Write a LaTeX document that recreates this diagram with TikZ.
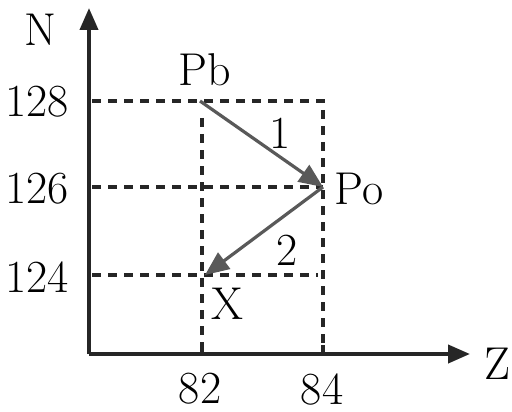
\documentclass[tikz,border=0pt]{standalone}
\usetikzlibrary{arrows.meta}
\begin{document}
\begin{tikzpicture}[x=0.5pt,y=-0.5pt,
  lbl/.style={inner sep=0pt,font=\fontsize{23}{26}\selectfont},
  axis/.style={line width=2pt,-{Triangle[length=11pt,width=9pt]},black!85},
  guide/.style={line width=1.6pt,dash pattern=on 4.5pt off 3.5pt,black!85},
  decay/.style={line width=1.6pt,black!65,-{Triangle[length=12pt,width=10pt]}}]
\useasboundingbox (0,0) rectangle (512,411);
\coordinate (O) at (89,354);
\coordinate (Ytop) at (89,8);
\coordinate (Xend) at (470,354);
\coordinate (Pb) at (200,101);
\coordinate (Po) at (323,187);
\coordinate (X) at (205,275);
\coordinate (L128) at (92,101);
\coordinate (L126) at (92,187);
\coordinate (L124) at (92,275);
\coordinate (R124) at (318,275);
\coordinate (R128) at (323,101);
\coordinate (A82) at (202,354);
\coordinate (T82) at (202,118);
\coordinate (A84) at (323,354);
% guides
\draw[guide] (L128) -- (R128) -- (A84);
\draw[guide] (L126) -- (Po);
\draw[guide] (L124) -- (R124);
\draw[guide] (T82) -- (A82);
% axes
\draw[axis] (O) -- (Ytop);
\draw[axis] (O) -- (Xend);
\draw[line width=2pt,black!85] (A82) -- ++(0,-9);
\draw[line width=2pt,black!85] (A84) -- ++(0,-9);
% decays
\draw[decay] (Pb) -- (Po);
\draw[decay] (Po) -- (X);
% labels
\node[lbl] (nN) at (40,30) {N};
\node[lbl] (nZ) at (497,364) {Z};
\node[lbl] (nPb) at (205,70) {Pb};
\node[lbl] (nPo) at (359,189) {Po};
\node[lbl] (nX) at (227,304) {X};
\node[lbl] (n1) at (280,133) {1};
\node[lbl] (n2) at (287,250) {2};
\node[lbl] (n128) at (37,102) {128};
\node[lbl] (n126) at (37,189) {126};
\node[lbl] (n124) at (37,277) {124};
\node[lbl] (n82) at (200,389) {82};
\node[lbl] (n84) at (322,389) {84};
\end{tikzpicture}
\end{document}
